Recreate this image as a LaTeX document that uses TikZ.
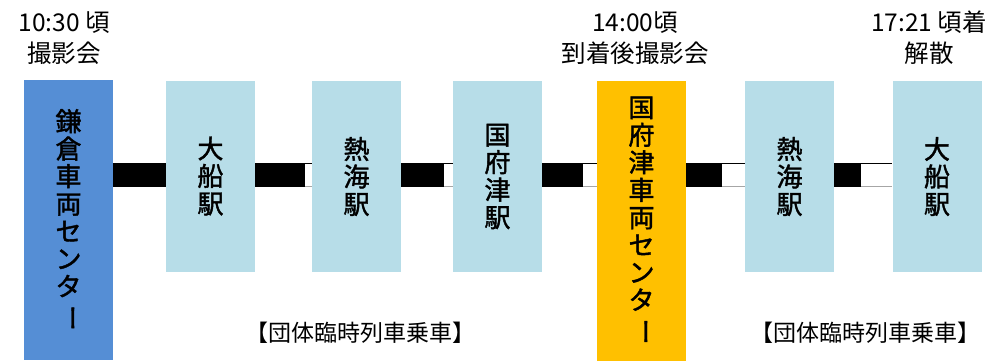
\documentclass[tikz,border=0pt]{standalone}
\usepackage{fontspec}
\usepackage{graphicx}
\setmainfont{Noto Sans CJK JP}
\newfontfamily\boxfont{Noto Sans CJK JP}[FakeBold=1.6]
\usetikzlibrary{calc}
\definecolor{depotblue}{RGB}{85,142,213}
\definecolor{stationblue}{RGB}{183,221,232}
\definecolor{depotorange}{RGB}{255,192,0}
\newcommand\vbar{\rotatebox[origin=c]{-90}{ー}}
\newcommand\trackbar[3]{%
  \fill[white] (#1.east|-0,163) rectangle (#2.west|-0,187);
  \draw[black, line width=1pt] (#1.east|-0,163.5) -- (#2.west|-0,163.5);
  \draw[gray!70, line width=1.2pt] (#1.east|-0,186.4) -- (#2.west|-0,186.4);
  \fill[black] (#1.east|-0,163) rectangle ($(#1.east|-0,187)+(#3,0)$);
}
\begin{document}
\begin{tikzpicture}[x=1pt,y=-1pt,
  box/.style={minimum width=89pt, inner sep=0pt, align=center,
    font=\boxfont\fontsize{26}{27.5}\selectfont},
  depot/.style={box, minimum height=280pt},
  station/.style={box, minimum height=191pt, fill=stationblue},
  toplabel/.style={align=center, font=\fontsize{24.5}{31}\selectfont, inner sep=0pt},
  botlabel/.style={font=\fontsize{23}{26}\selectfont, inner sep=0pt}]
\useasboundingbox (0,0) rectangle (994,360);

\node[depot, fill=depotblue] (d1) at (68.5,220) {鎌\\倉\\車\\両\\セ\\ン\\タ\\\vbar};
\node[station] (s1) at (210.5,176) {大\\船\\駅};
\node[station] (s2) at (356.5,176.5) {熱\\海\\駅};
\node[station] (s3) at (497.5,176.5) {国\\府\\津\\駅};
\node[depot, fill=depotorange] (d2) at (641.5,220.5) {国\\府\\津\\車\\両\\セ\\ン\\タ\\\vbar};
\node[station] (s4) at (789.5,176.5) {熱\\海\\駅};
\node[station] (s5) at (937,176.5) {大\\船\\駅};

\trackbar{d1}{s1}{53}
\trackbar{s1}{s2}{50}
\trackbar{s2}{s3}{43}
\trackbar{s3}{d2}{41}
\trackbar{d2}{s4}{36}
\trackbar{s4}{s5}{27}

\node[toplabel] (t1) at (64,38) {10:30 頃\\撮影会};
\node[toplabel] (t2) at (635,38) {14:00頃\\到着後撮影会};
\node[toplabel] (t3) at (929,38) {17:21 頃着\\解散};

\node[botlabel] (b1) at (360,333) {【団体臨時列車乗車】};
\node[botlabel] (b2) at (865,333) {【団体臨時列車乗車】};
\end{tikzpicture}
\end{document}
